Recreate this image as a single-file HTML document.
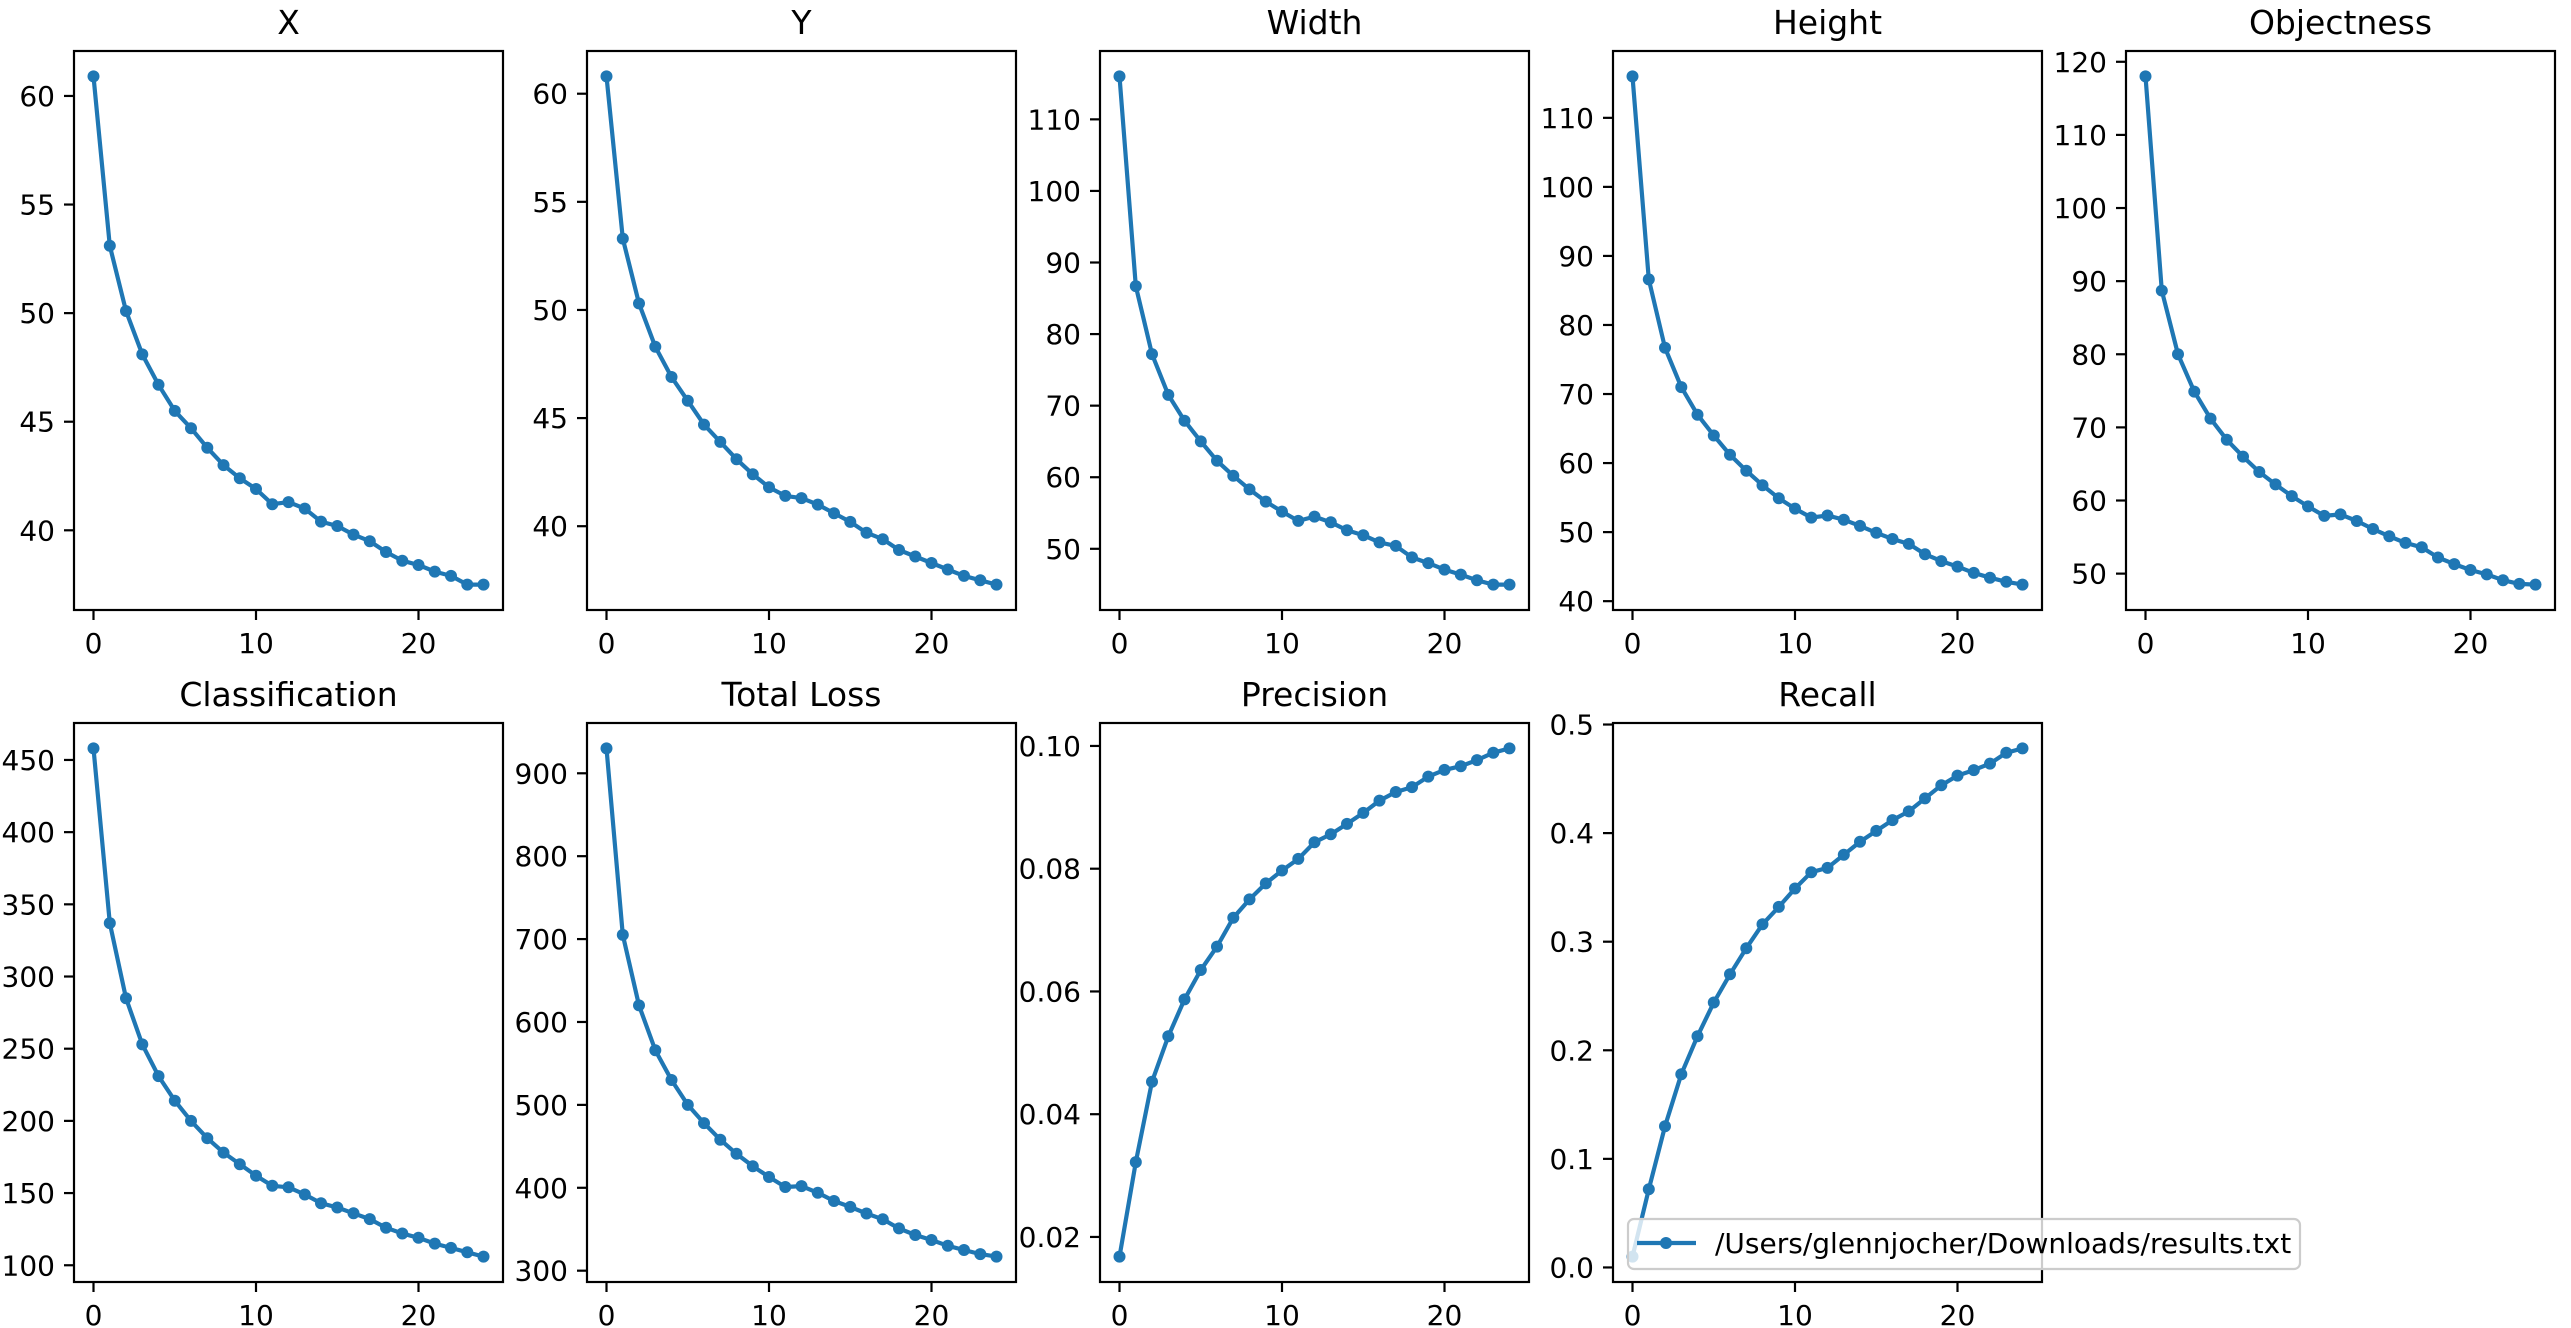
<!DOCTYPE html>
<html><head><meta charset="utf-8">
<style>
html,body{margin:0;padding:0;background:#fff;}
svg{display:block;font-family:"DejaVu Sans","Liberation Sans",sans-serif;}
</style></head>
<body>
<svg id="s" width="2571" height="1328" viewBox="0 0 2571 1328" xmlns="http://www.w3.org/2000/svg"></svg>
<script>
var plots=[
{t:"X",d:[60.9,53.1,50.1,48.1,46.7,45.5,44.7,43.8,43.0,42.4,41.9,41.2,41.3,41.0,40.4,40.2,39.8,39.5,39.0,38.6,38.4,38.1,37.9,37.5,37.5],tk:[40,45,50,55,60],f:0},
{t:"Y",d:[60.8,53.3,50.3,48.3,46.9,45.8,44.7,43.9,43.1,42.4,41.8,41.4,41.3,41.0,40.6,40.2,39.7,39.4,38.9,38.6,38.3,38.0,37.7,37.5,37.3],tk:[40,45,50,55,60],f:0},
{t:"Width",d:[116,86.7,77.2,71.5,67.9,65.0,62.3,60.2,58.3,56.6,55.2,53.9,54.5,53.7,52.6,51.9,50.9,50.4,48.8,48.0,47.1,46.4,45.6,45.0,45.0],tk:[50,60,70,80,90,100,110],f:0},
{t:"Height",d:[116,86.6,76.7,71.0,67.0,64.0,61.2,58.9,56.8,54.9,53.4,52.1,52.4,51.8,50.9,49.9,49.0,48.3,46.8,45.8,45.0,44.1,43.4,42.8,42.4],tk:[40,50,60,70,80,90,100,110],f:0},
{t:"Objectness",d:[118,88.7,80.0,74.9,71.2,68.3,66.0,63.9,62.2,60.6,59.2,57.9,58.1,57.2,56.1,55.1,54.2,53.6,52.2,51.3,50.5,49.9,49.1,48.6,48.5],tk:[50,60,70,80,90,100,110,120],f:0},
{t:"Classification",d:[458,337,285,253,231,214,200,188,178,170,162,155,154,149,143,140,136,132,126,122,119,115,112,109,106],tk:[100,150,200,250,300,350,400,450],f:0},
{t:"Total Loss",d:[930,705,620,566,530,500,478,458,441,426,413,401,402,394,384,377,369,362,351,343,337,330,325,320,317],tk:[300,400,500,600,700,800,900],f:0},
{t:"Precision",d:[0.0168,0.0322,0.0453,0.0527,0.0587,0.0635,0.0673,0.0720,0.0750,0.0776,0.0797,0.0816,0.0843,0.0856,0.0873,0.0891,0.0911,0.0925,0.0933,0.0950,0.0961,0.0967,0.0977,0.0989,0.0996],tk:[0.02,0.04,0.06,0.08,0.10],f:2},
{t:"Recall",d:[0.010,0.072,0.130,0.178,0.213,0.244,0.270,0.294,0.316,0.332,0.349,0.364,0.368,0.380,0.392,0.402,0.412,0.420,0.432,0.444,0.453,0.458,0.464,0.474,0.478],tk:[0,0.1,0.2,0.3,0.4,0.5],f:1}
];
var W=429,H=559,out="",C="#1f77b4";
plots.forEach(function(p,i){
 var col=i%5,row=Math.floor(i/5);
 var L=74+col*513,T=51+row*672,R=L+W,B=T+H;
 var mn=Math.min.apply(0,p.d),mx=Math.max.apply(0,p.d),r=mx-mn;
 var y0=mn-0.05*r,y1=mx+0.05*r,x0=-1.2,x1=25.2;
 function X(v){return L+(v-x0)/(x1-x0)*W;}
 function Y(v){return B-(v-y0)/(y1-y0)*H;}
 out+='<text x="'+(L+W/2)+'" y="'+(T-17)+'" font-size="33" text-anchor="middle">'+p.t+'</text>';
 p.tk.forEach(function(v){var y=Y(v);
  out+='<line x1="'+(L-10)+'" x2="'+L+'" y1="'+y+'" y2="'+y+'" stroke="#000" stroke-width="2.2"/>';
  var lab=p.f==2?v.toFixed(2):p.f==1?v.toFixed(1):String(v);
  out+='<text x="'+(L-19)+'" y="'+(y+10)+'" font-size="28" text-anchor="end">'+lab+'</text>';});
 [0,10,20].forEach(function(v){var x=X(v);
  out+='<line x1="'+x+'" x2="'+x+'" y1="'+B+'" y2="'+(B+10)+'" stroke="#000" stroke-width="2.2"/>';
  out+='<text x="'+x+'" y="'+(B+43)+'" font-size="28" text-anchor="middle">'+v+'</text>';});
 var pts=p.d.map(function(v,k){return X(k).toFixed(1)+","+Y(v).toFixed(1);});
 out+='<polyline points="'+pts.join(" ")+'" fill="none" stroke="'+C+'" stroke-width="4.2" stroke-linejoin="round"/>';
 p.d.forEach(function(v,k){out+='<circle cx="'+X(k).toFixed(1)+'" cy="'+Y(v).toFixed(1)+'" r="6" fill="'+C+'"/>';});
 out+='<rect x="'+L+'" y="'+T+'" width="'+W+'" height="'+H+'" fill="none" stroke="#000" stroke-width="2.2"/>';
 if(i==8){
  out+='<rect x="1628" y="1219" width="672" height="50" rx="6" fill="#fff" fill-opacity="0.8" stroke="#ccc" stroke-width="2.2"/>';
  out+='<line x1="1637" x2="1696" y1="1243" y2="1243" stroke="'+C+'" stroke-width="4.2"/>';
  out+='<circle cx="1666" cy="1243" r="6" fill="'+C+'"/>';
  out+='<text x="1715" y="1253" font-size="28">/Users/glennjocher/Downloads/results.txt</text>';
 }
});
document.getElementById("s").innerHTML=out;
</script>
</body></html>
